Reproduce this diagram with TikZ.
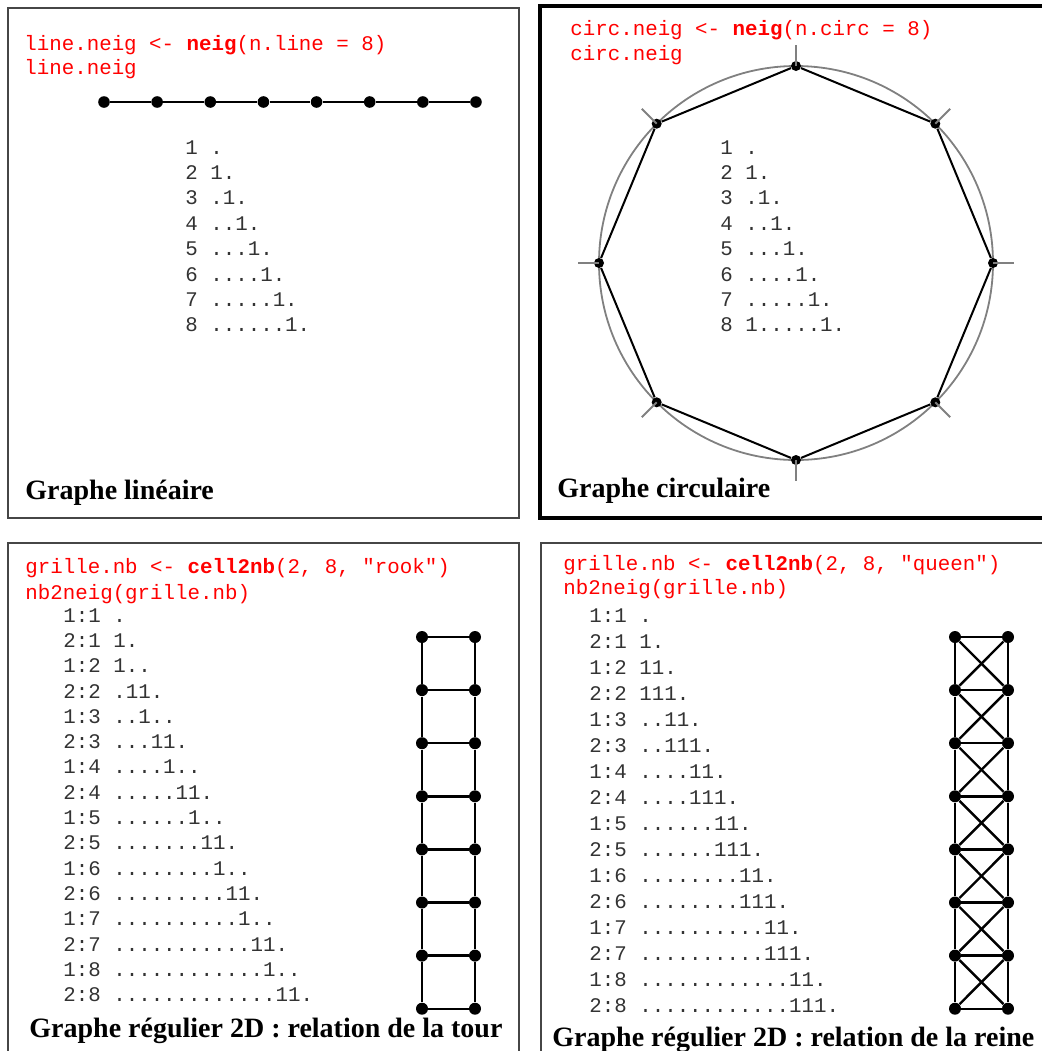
\documentclass[tikz,border=0pt]{standalone}
\usepackage{fontspec}
\setmainfont{Liberation Serif}
\setmonofont{Liberation Mono}
\usepackage{tikz}
\usetikzlibrary{positioning}
\tikzset{
  panelbox/.style={
    draw=gray!55!black, line width=0.6pt
  },
  panelboxbold/.style={
    draw=black, line width=1.6pt
  },
  codeline/.style={
    anchor=base west, inner sep=0pt, text=red,
    font=\ttfamily\fontsize{10.4}{12}\selectfont
  },
  listline/.style={
    anchor=base west, inner sep=0pt, text=black!80,
    font=\ttfamily\fontsize{10.4}{12}\selectfont
  },
  paneltitle/.style={
    anchor=base west, inner sep=0pt,
    font=\bfseries\fontsize{14}{16}\selectfont
  },
  vertex/.style={
    circle, fill=black, inner sep=0pt, minimum size=5.8pt
  },
  vertexsmall/.style={vertex, minimum size=5pt},
  vertexgrid/.style={vertex, minimum size=6pt},
  graphedge/.style={draw=black, line width=1pt},
  gridedge/.style={draw=black, line width=1.2pt},
  ringline/.style={draw=gray, line width=0.9pt},
}
% run of n dots
\newcommand{\dotrun}[1]{%
  \ifnum\numexpr#1\relax>0 .\expandafter\dotrun\expandafter{\the\numexpr#1-1\relax}\fi}

\begin{document}
\begin{tikzpicture}[x=0.5pt, y=-0.5pt]
  \useasboundingbox (0,0) rectangle (1042,1051);
  \clip (0,0) rectangle (1042,1051);

  % ── Graphe lineaire ────────────────────────────────────────────
  \draw[panelbox] (8,8) rectangle (519,518);
  \node[codeline] (lincode1) at (24,50) {line.neig <- \textbf{neig}(n.line = 8)};
  \node[codeline] (lincode2) at (24,74) {line.neig};

  \foreach \i in {1,...,8} {
    \pgfmathsetmacro{\xpos}{104 + (\i-1)*53.14}
    \node[vertex] (lv\i) at (\xpos,102) {};
  }
  \foreach \i in {1,...,7} {
    \pgfmathtruncatemacro{\j}{\i+1}
    \draw[graphedge] (lv\i) -- (lv\j);
  }

  % neighbour matrix
  \foreach \i in {1,...,8} {
    \pgfmathsetmacro{\ypos}{154 + (\i-1)*25.4}
    \node[listline] (lin\i) at (185,\ypos)
      {\i\ \ifnum\i=1 .\else\dotrun{\i-2}1.\fi};
  }

  \node[paneltitle] (lintitle) at (25,499) {Graphe linéaire};

  % ── Graphe circulaire ──────────────────────────────────────────
  \draw[panelboxbold] (540,6) rectangle (1070,518);
  \node[codeline] (circcode1) at (570,35) {circ.neig <- \textbf{neig}(n.circ = 8)};
  \node[codeline] (circcode2) at (570,60) {circ.neig};

  \coordinate (cc) at (796,263);
  \draw[ringline] (cc) circle (197);
  \foreach \k in {0,...,7} {
    \pgfmathsetmacro{\a}{90-45*\k}
    \node[vertexsmall] (cv\k) at ({796+197*cos(\a)},{263-197*sin(\a)}) {};
    \coordinate (ct\k) at ({796+218*cos(\a)},{263-218*sin(\a)});
  }
  \foreach \k in {0,...,7} {
    \pgfmathtruncatemacro{\j}{mod(\k+1,8)}
    \draw[graphedge] (cv\k) -- (cv\j);
    \draw[ringline] (cv\k.center) -- (ct\k);
  }

  \foreach \i in {1,...,8} {
    \pgfmathsetmacro{\ypos}{154 + (\i-1)*25.4}
    \node[listline] (circ\i) at (720,\ypos)
      {\i\ \ifnum\i=1 .\else\ifnum\i=8 1\dotrun{5}1.\else\dotrun{\i-2}1.\fi\fi};
  }

  \node[paneltitle] (circtitle) at (557,497) {Graphe circulaire};

  % ── Grille 2D, relation de la tour ─────────────────────────────
  \draw[panelbox] (8,543) rectangle (519,1080);
  \node[codeline] (rookcode1) at (25,573) {grille.nb <- \textbf{cell2nb}(2, 8, "rook")};
  \node[codeline] (rookcode2) at (25,599) {nb2neig(grille.nb)};

  \foreach \i in {1,...,16} {
    \pgfmathsetmacro{\ypos}{622 + (\i-1)*25.33}
    \pgfmathtruncatemacro{\row}{mod(\i-1,2)+1}
    \pgfmathtruncatemacro{\col}{ceil(\i/2)}
    \node[listline] (rook\i) at (63,\ypos)
      {\row:\col\ \ifnum\i=1 .\else\ifnum\i=2 1.\else
        \dotrun{\i-3}\ifodd\i\relax 1..\else 11.\fi\fi\fi};
  }

  \foreach \j in {1,...,8} {
    \pgfmathsetmacro{\ypos}{637 + (\j-1)*53.1}
    \node[vertexgrid] (ra\j) at (422,\ypos) {};
    \node[vertexgrid] (rb\j) at (475,\ypos) {};
    \draw[gridedge] (ra\j) -- (rb\j);
  }
  \foreach \j in {1,...,7} {
    \pgfmathtruncatemacro{\n}{\j+1}
    \draw[gridedge] (ra\j) -- (ra\n);
    \draw[gridedge] (rb\j) -- (rb\n);
  }

  \node[paneltitle] (rooktitle) at (29,1037) {Graphe régulier 2D : relation de la tour};

  % ── Grille 2D, relation de la reine ────────────────────────────
  \draw[panelbox] (541,543) rectangle (1070,1080);
  \node[codeline] (queencode1) at (563,570) {grille.nb <- \textbf{cell2nb}(2, 8, "queen")};
  \node[codeline] (queencode2) at (563,594) {nb2neig(grille.nb)};

  \foreach \i in {1,...,16} {
    \pgfmathsetmacro{\ypos}{622 + (\i-1)*26}
    \pgfmathtruncatemacro{\row}{mod(\i-1,2)+1}
    \pgfmathtruncatemacro{\col}{ceil(\i/2)}
    \node[listline] (queen\i) at (589,\ypos)
      {\row:\col\ \ifnum\i=1 .\else\ifnum\i=2 1.\else
        \ifodd\i\relax \dotrun{\i-3}11.\else\dotrun{\i-4}111.\fi\fi\fi};
  }

  \foreach \j in {1,...,8} {
    \pgfmathsetmacro{\ypos}{637 + (\j-1)*53.1}
    \node[vertexgrid] (qa\j) at (955,\ypos) {};
    \node[vertexgrid] (qb\j) at (1008,\ypos) {};
    \draw[gridedge] (qa\j) -- (qb\j);
  }
  \foreach \j in {1,...,7} {
    \pgfmathtruncatemacro{\n}{\j+1}
    \draw[gridedge] (qa\j) -- (qa\n);
    \draw[gridedge] (qb\j) -- (qb\n);
    \draw[gridedge] (qa\j) -- (qb\n);
    \draw[gridedge] (qb\j) -- (qa\n);
  }

  \node[paneltitle] (queentitle) at (552,1046) {Graphe régulier 2D : relation de la reine};
\end{tikzpicture}
\end{document}
